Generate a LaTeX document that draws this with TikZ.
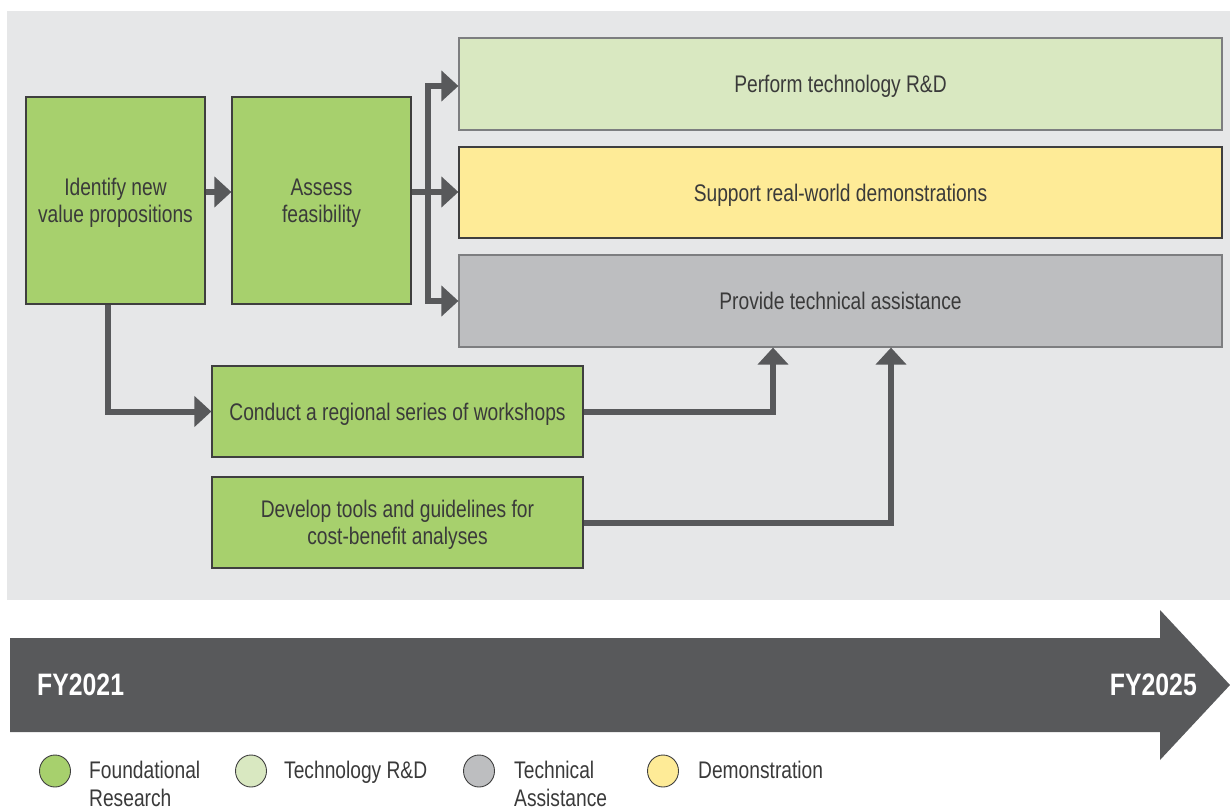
\documentclass[tikz,border=0pt]{standalone}
\usepackage{fontspec}
\setmainfont{Liberation Sans}[FakeStretch=0.8]
\usetikzlibrary{arrows.meta,shapes.geometric,calc}
\definecolor{panel}{HTML}{E6E7E8}
\definecolor{fgreen}{HTML}{A7D06D}
\definecolor{lgreen}{HTML}{D9E8C1}
\definecolor{dyellow}{HTML}{FEEB97}
\definecolor{tgrey}{HTML}{BDBEC0}
\definecolor{dark}{HTML}{58595B}
\definecolor{txt}{HTML}{3A3A3A}
\definecolor{edge}{HTML}{3F3F3F}
\definecolor{softedge}{HTML}{7D7E80}
\begin{document}
\begin{tikzpicture}[x=1pt,y=-1pt,
  box/.style={draw=edge,line width=1.2pt,text=txt,align=center,
    font=\fontsize{24}{27}\selectfont,inner sep=0pt,text depth=0pt},
  conn/.style={draw=dark,line width=6pt,line join=miter},
  arr/.style={conn,-{Triangle[length=17pt,width=30pt]}},
  legdot/.style={ellipse,draw=edge,line width=0.9pt,minimum width=31pt,minimum height=32pt,inner sep=0pt},
  legtext/.style={anchor=north west,inner sep=0pt,text=txt,align=left,
    font=\fontsize{24}{28}\selectfont},
  fytext/.style={inner sep=0pt,text=white,font=\bfseries\fontsize{31}{31}\selectfont}]
\useasboundingbox (0,0) rectangle (1230,810);
\fill[panel] (7,11) rectangle (1230,600);

% boxes
\node[box,fill=fgreen,minimum width=179pt,minimum height=207pt] (identify) at (115.5,200.5) {Identify new\\value propositions};
\node[box,fill=fgreen,minimum width=179pt,minimum height=207pt] (assess) at (321.5,200.5) {Assess\\feasibility};
\node[box,fill=lgreen,draw=softedge,minimum width=763pt,minimum height=92pt] (perform) at (840.5,84) {Perform technology R\&D};
\node[box,fill=dyellow,minimum width=763pt,minimum height=91pt] (support) at (840.5,192.5) {Support real-world demonstrations};
\node[box,fill=tgrey,draw=softedge,minimum width=763pt,minimum height=92pt] (provide) at (840.5,301) {Provide technical assistance};
\node[box,fill=fgreen,minimum width=371pt,minimum height=91pt] (conduct) at (397.5,411.5) {Conduct a regional series of workshops};
\node[box,fill=fgreen,minimum width=371pt,minimum height=91pt] (develop) at (397.5,522.5) {Develop tools and guidelines for\\cost-benefit analyses};

% connectors
\coordinate (fork) at (428,192);
\draw[arr] (identify.east |- fork) -- (assess.west |- fork);
\draw[conn] (assess.east |- fork) -- (fork);
\draw[arr] (fork) |- ([yshift=-2pt]perform.west);
\draw[arr] (fork) -- (support.west |- fork);
\draw[arr] (fork) |- (provide.west);
\draw[arr] ([xshift=-7.5pt]identify.south) |- (conduct.west);
\draw[arr] (conduct.east) -| ([xshift=-67.5pt]provide.south);
\draw[arr] (develop.east) -| ([xshift=50.5pt]provide.south);

% timeline arrow
\fill[dark] (10,638) -- (1160,638) -- (1160,610) -- (1230,685) -- (1160,760) -- (1160,732) -- (10,732) -- cycle;
\node[fytext,anchor=west] (fy1) at (37,685) {FY2021};
\node[fytext,anchor=east] (fy2) at (1197,685) {FY2025};

% legend
\node[legdot,fill=fgreen] (d1) at (55,771) {};
\node[legtext] (t1) at (89,761) {Foundational\\Research};
\node[legdot,fill=lgreen] (d2) at (251,771) {};
\node[legtext] (t2) at (284,761) {Technology R\&D};
\node[legdot,fill=tgrey] (d3) at (479,771) {};
\node[legtext] (t3) at (514,761) {Technical\\Assistance};
\node[legdot,fill=dyellow] (d4) at (663,771) {};
\node[legtext] (t4) at (698,761) {Demonstration};
\end{tikzpicture}
\end{document}
